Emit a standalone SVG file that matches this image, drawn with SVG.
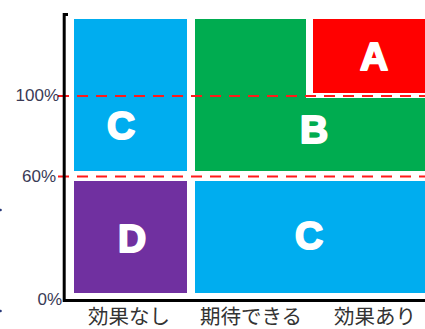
<svg xmlns="http://www.w3.org/2000/svg" width="425" height="329" viewBox="0 0 425 329">
<style>
.lbl{font-family:"Liberation Sans",Arial,sans-serif;font-weight:bold;font-size:39px;fill:#fff;stroke:#fff;stroke-width:2;stroke-linejoin:round;text-anchor:middle}
.pct{font-family:"Liberation Sans",Arial,sans-serif;font-size:17px;fill:#3a3a55;text-anchor:end}
.cat{font-family:"Noto Sans CJK JP","Liberation Sans",sans-serif;font-size:20.5px;fill:#333;text-anchor:middle}
.dash{stroke:#ff1a1a;stroke-width:2.2;stroke-dasharray:11 8;fill:none}
</style>
<rect width="425" height="329" fill="#fff"/>
<g id="nodeC1"><rect x="74" y="19" width="113" height="152" fill="#00adef"/><text class="lbl" x="121" y="139">C</text></g>
<g id="nodeB"><path d="M195 19H306V98H425V171H195Z" fill="#00ac50"/><text class="lbl" x="314" y="143">B</text></g>
<g id="nodeA"><rect x="313" y="19" width="112" height="74" fill="#ff0000"/><text class="lbl" x="374" y="70">A</text></g>
<g id="nodeD"><rect x="74" y="181" width="113" height="112" fill="#7030a0"/><text class="lbl" x="132" y="252">D</text></g>
<g id="nodeC2"><rect x="195" y="181" width="230" height="112" fill="#00adef"/><text class="lbl" x="309" y="249">C</text></g>
<g id="connectors">
<line class="dash" x1="58" y1="96" x2="425" y2="96"/>
<line class="dash" x1="58" y1="176.5" x2="425" y2="176.5"/>
</g>
<g id="axes" fill="none" stroke="#000" stroke-width="3">
<path d="M68 14.5H64.2V300.5H425"/>
</g>
<g id="labels">
<text class="pct" x="59" y="101">100%</text>
<text class="pct" x="56" y="182">60%</text>
<text class="pct" x="62" y="305">0%</text>
<text class="cat" x="129" y="323.5">効果なし</text>
<text class="cat" x="251" y="323.5">期待できる</text>
<text class="cat" x="375" y="323.5">効果あり</text>
</g>
<circle cx="0.5" cy="210" r="1.3" fill="#2a3a7a"/>
<circle cx="0.5" cy="311" r="1.3" fill="#2a3a7a"/>
</svg>
